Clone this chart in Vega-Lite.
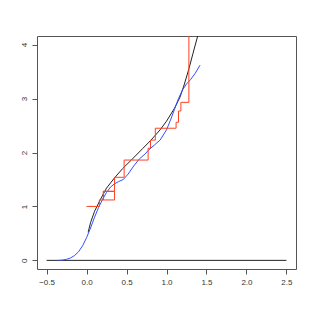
{
  "$schema": "https://vega.github.io/schema/vega-lite/v6.json",
  "width": 259,
  "height": 233,
  "autosize": {"type": "none"},
  "padding": {"left": 37, "top": 36, "right": 19, "bottom": 46},
  "background": "white",
  "config": {
    "view": {"stroke": "#555", "strokeWidth": 1},
    "axis": {
      "labelFont": "Liberation Sans",
      "labelFontSize": 8,
      "labelColor": "#333",
      "tickColor": "#555",
      "tickSize": 5,
      "domain": false,
      "grid": false,
      "title": null
    }
  },
  "data": {
    "values": [
      {"s": "base", "o": 1, "x": -0.5, "y": 0},
      {"s": "base", "o": 2, "x": 2.5, "y": 0},

      {"s": "black", "o": 1, "x": 0.02, "y": 0.52},
      {"s": "black", "o": 2, "x": 0.05, "y": 0.70},
      {"s": "black", "o": 3, "x": 0.10, "y": 0.91},
      {"s": "black", "o": 4, "x": 0.17, "y": 1.12},
      {"s": "black", "o": 5, "x": 0.25, "y": 1.34},
      {"s": "black", "o": 6, "x": 0.35, "y": 1.53},
      {"s": "black", "o": 7, "x": 0.45, "y": 1.70},
      {"s": "black", "o": 8, "x": 0.56, "y": 1.86},
      {"s": "black", "o": 9, "x": 0.70, "y": 2.07},
      {"s": "black", "o": 10, "x": 0.80, "y": 2.22},
      {"s": "black", "o": 11, "x": 0.92, "y": 2.42},
      {"s": "black", "o": 12, "x": 1.00, "y": 2.58},
      {"s": "black", "o": 13, "x": 1.10, "y": 2.82},
      {"s": "black", "o": 14, "x": 1.17, "y": 3.03},
      {"s": "black", "o": 15, "x": 1.22, "y": 3.25},
      {"s": "black", "o": 16, "x": 1.28, "y": 3.55},
      {"s": "black", "o": 17, "x": 1.33, "y": 3.83},
      {"s": "black", "o": 18, "x": 1.39, "y": 4.16},

      {"s": "blue", "o": 1, "x": -0.35, "y": 0.0},
      {"s": "blue", "o": 2, "x": -0.30, "y": 0.005},
      {"s": "blue", "o": 3, "x": -0.25, "y": 0.02},
      {"s": "blue", "o": 4, "x": -0.20, "y": 0.045},
      {"s": "blue", "o": 5, "x": -0.15, "y": 0.09},
      {"s": "blue", "o": 6, "x": -0.10, "y": 0.16},
      {"s": "blue", "o": 7, "x": -0.05, "y": 0.27},
      {"s": "blue", "o": 8, "x": 0.00, "y": 0.42},
      {"s": "blue", "o": 9, "x": 0.05, "y": 0.60},
      {"s": "blue", "o": 10, "x": 0.10, "y": 0.80},
      {"s": "blue", "o": 11, "x": 0.15, "y": 0.98},
      {"s": "blue", "o": 12, "x": 0.20, "y": 1.13},
      {"s": "blue", "o": 13, "x": 0.25, "y": 1.26},
      {"s": "blue", "o": 14, "x": 0.30, "y": 1.36},
      {"s": "blue", "o": 15, "x": 0.35, "y": 1.42},
      {"s": "blue", "o": 16, "x": 0.40, "y": 1.46},
      {"s": "blue", "o": 17, "x": 0.46, "y": 1.50},
      {"s": "blue", "o": 18, "x": 0.52, "y": 1.60},
      {"s": "blue", "o": 19, "x": 0.59, "y": 1.75},
      {"s": "blue", "o": 20, "x": 0.66, "y": 1.88},
      {"s": "blue", "o": 21, "x": 0.73, "y": 1.97},
      {"s": "blue", "o": 22, "x": 0.78, "y": 2.05},
      {"s": "blue", "o": 23, "x": 0.85, "y": 2.14},
      {"s": "blue", "o": 24, "x": 0.92, "y": 2.23},
      {"s": "blue", "o": 25, "x": 1.00, "y": 2.42},
      {"s": "blue", "o": 26, "x": 1.05, "y": 2.60},
      {"s": "blue", "o": 27, "x": 1.10, "y": 2.80},
      {"s": "blue", "o": 28, "x": 1.15, "y": 3.00},
      {"s": "blue", "o": 29, "x": 1.20, "y": 3.16},
      {"s": "blue", "o": 30, "x": 1.25, "y": 3.27},
      {"s": "blue", "o": 31, "x": 1.30, "y": 3.35},
      {"s": "blue", "o": 32, "x": 1.36, "y": 3.47},
      {"s": "blue", "o": 33, "x": 1.42, "y": 3.62},

      {"s": "red", "o": 1, "x": 0.00, "y": 1.00},
      {"s": "red", "o": 2, "x": 0.16, "y": 1.00},
      {"s": "red", "o": 3, "x": 0.16, "y": 1.12},
      {"s": "red", "o": 4, "x": 0.35, "y": 1.12},
      {"s": "red", "o": 5, "x": 0.35, "y": 1.28},
      {"s": "red", "o": 6, "x": 0.21, "y": 1.28},
      {"s": "red", "o": 7, "x": 0.21, "y": 1.12},
      {"s": "red", "o": 8, "x": 0.21, "y": 1.28},
      {"s": "red", "o": 9, "x": 0.35, "y": 1.28},
      {"s": "red", "o": 10, "x": 0.35, "y": 1.54},
      {"s": "red", "o": 11, "x": 0.47, "y": 1.54},
      {"s": "red", "o": 12, "x": 0.47, "y": 1.86},
      {"s": "red", "o": 13, "x": 0.77, "y": 1.86},
      {"s": "red", "o": 14, "x": 0.77, "y": 2.08},
      {"s": "red", "o": 15, "x": 0.80, "y": 2.08},
      {"s": "red", "o": 16, "x": 0.80, "y": 2.23},
      {"s": "red", "o": 17, "x": 0.86, "y": 2.23},
      {"s": "red", "o": 18, "x": 0.86, "y": 2.45},
      {"s": "red", "o": 19, "x": 1.12, "y": 2.45},
      {"s": "red", "o": 20, "x": 1.12, "y": 2.56},
      {"s": "red", "o": 21, "x": 1.15, "y": 2.56},
      {"s": "red", "o": 22, "x": 1.15, "y": 2.77},
      {"s": "red", "o": 23, "x": 1.18, "y": 2.77},
      {"s": "red", "o": 24, "x": 1.18, "y": 2.93},
      {"s": "red", "o": 25, "x": 1.28, "y": 2.93},
      {"s": "red", "o": 26, "x": 1.28, "y": 4.5}
    ]
  },
  "mark": {"type": "line", "clip": true, "strokeWidth": 1, "interpolate": "linear"},
  "encoding": {
    "x": {
      "field": "x", "type": "quantitative",
      "scale": {"domain": [-0.62, 2.62], "nice": false, "zero": false},
      "axis": {"values": [-0.5, 0, 0.5, 1, 1.5, 2, 2.5], "format": ".1f", "labelPadding": 4, "labelFlush": false}
    },
    "y": {
      "field": "y", "type": "quantitative",
      "scale": {"domain": [-0.16, 4.16], "nice": false, "zero": false},
      "axis": {"values": [0, 1, 2, 3, 4], "format": "d", "labelAngle": -90, "labelAlign": "center", "labelBaseline": "bottom", "labelPadding": 4, "labelFlush": false}
    },
    "color": {
      "field": "s", "type": "nominal", "legend": null,
      "scale": {"domain": ["base", "black", "blue", "red"], "range": ["#222222", "#222222", "#3050ff", "#ff4020"]}
    },
    "order": {"field": "o", "type": "quantitative"}
  }
}
